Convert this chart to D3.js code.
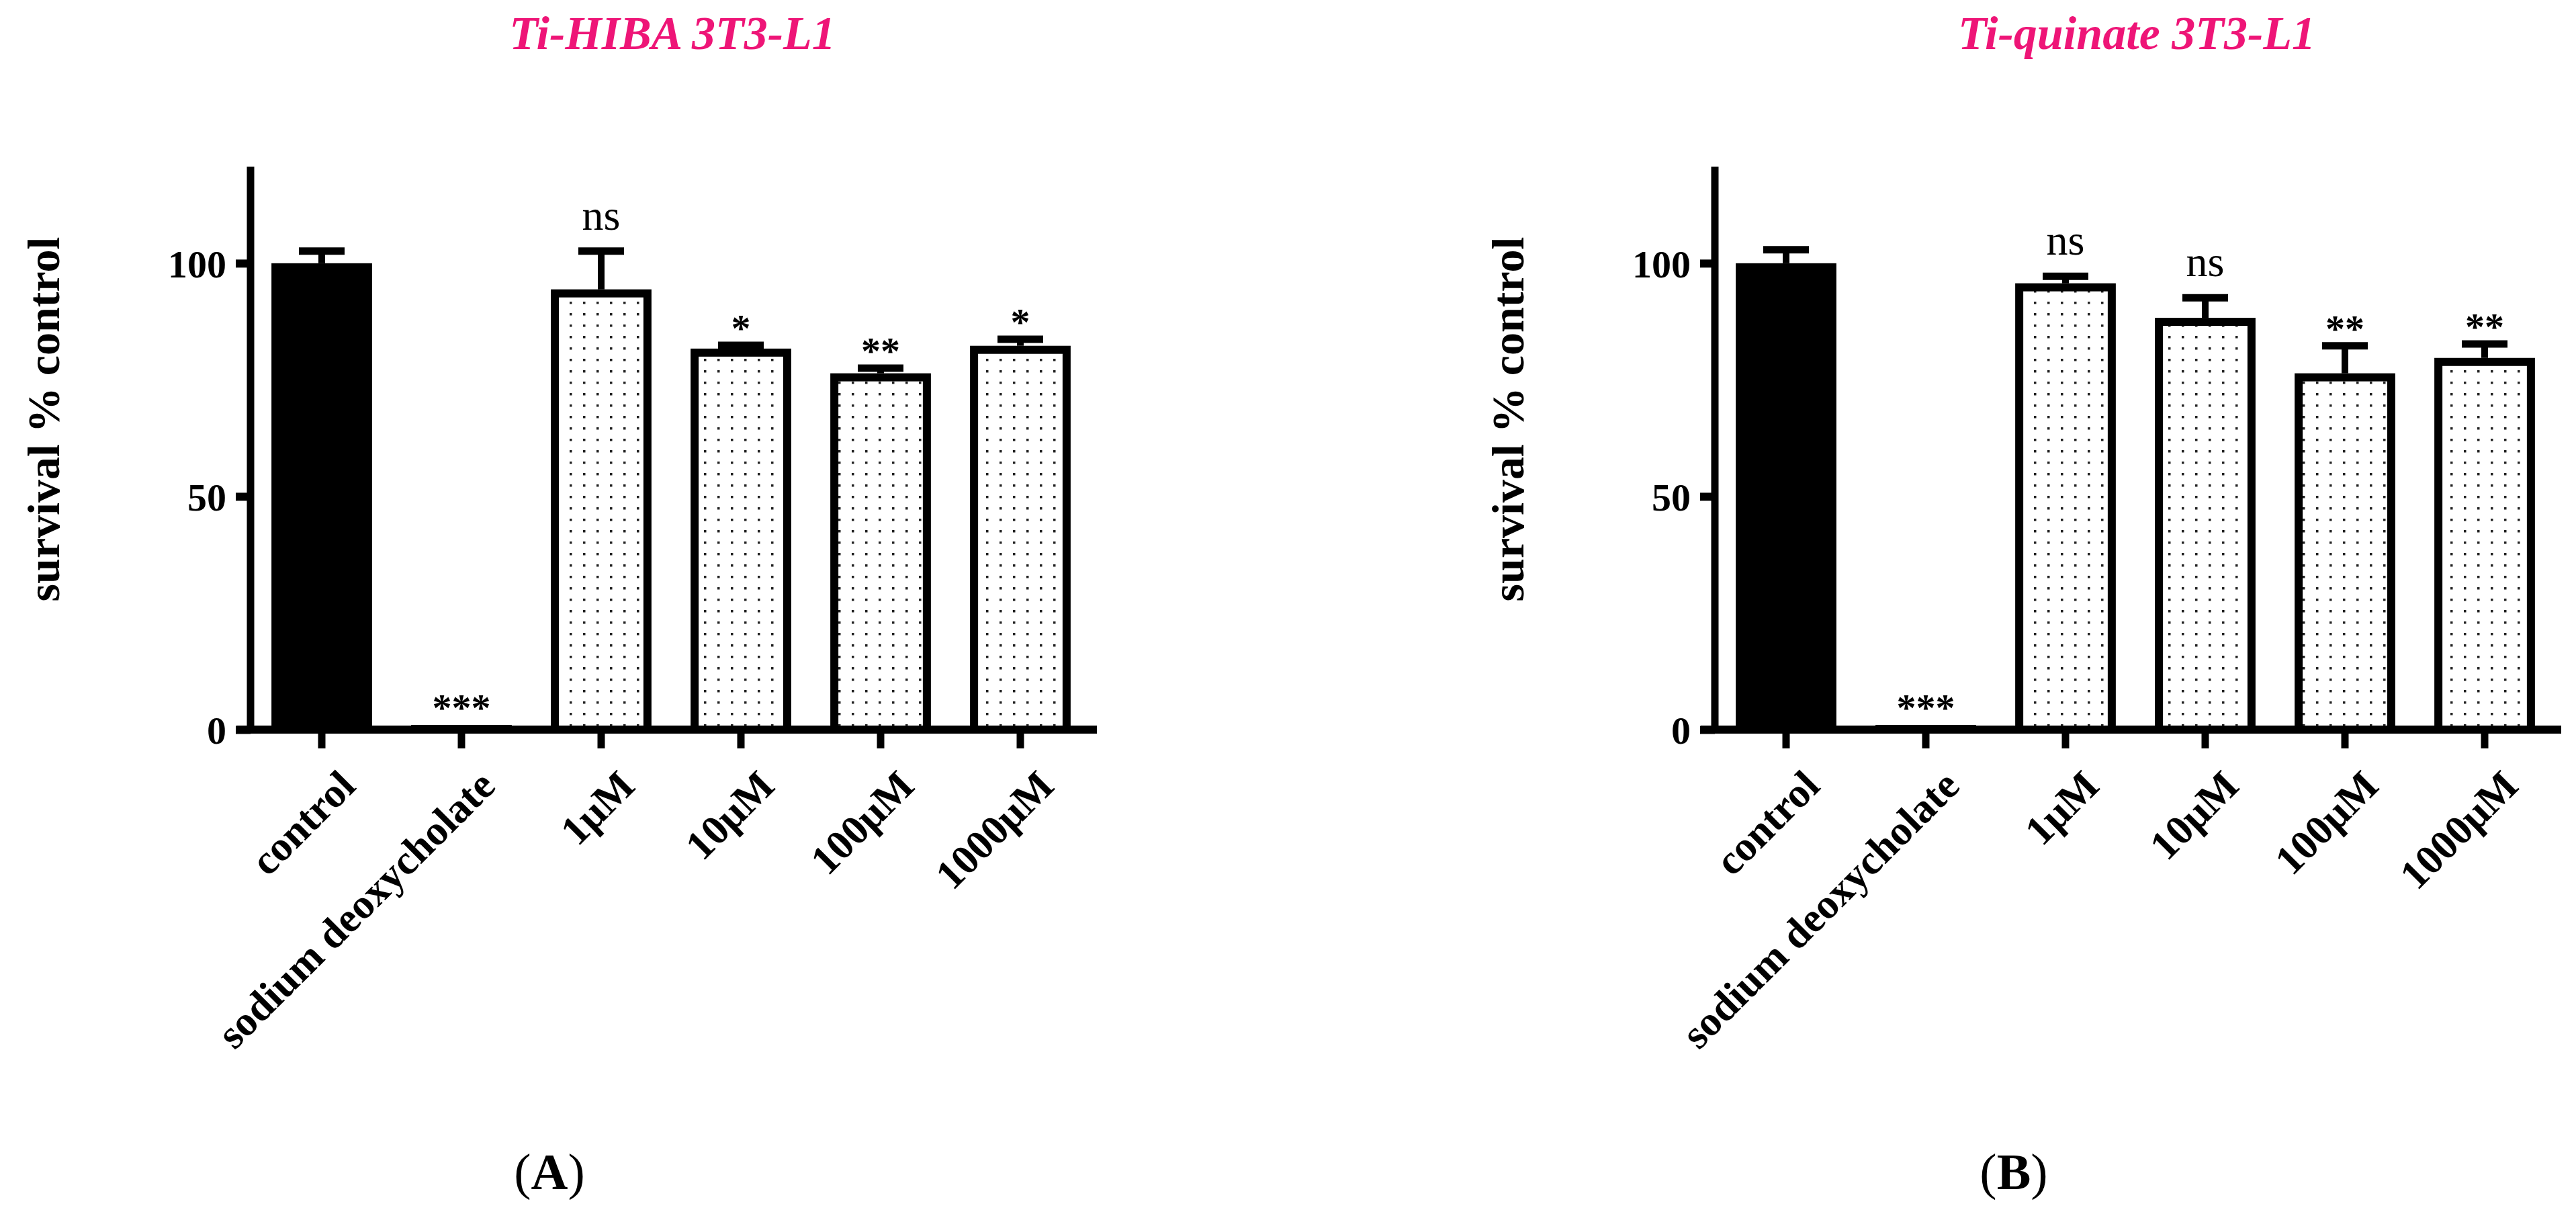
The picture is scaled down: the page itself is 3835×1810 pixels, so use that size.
<!DOCTYPE html>
<html>
<head>
<meta charset="utf-8">
<script src="https://cdn.jsdelivr.net/npm/d3@7"></script>
<style>
  body { margin:0; background:#fff; }
  text { font-family: "Liberation Serif", "Times New Roman", serif; }
</style>
</head>
<body>
<div id="chart-area"></div>
<script>
/* data */
var categories = ["control", "sodium deoxycholate", "1\u03BCM", "10\u03BCM", "100\u03BCM", "1000\u03BCM"];
var hibaMean = [100, 1, 94.4, 81.7, 76.4, 82.3];
var hibaErr  = [2.6, 0, 8.2, 0.7, 1.1, 1.4];
var hibaSig  = ["", "***", "ns", "*", "**", "*"];
var quinMean = [100, 1, 95.7, 88.3, 76.4, 79.7];
var quinErr  = [2.9, 0, 1.5, 4.3, 5.9, 3.0];
var quinSig  = ["", "***", "ns", "ns", "**", "**"];
var yTicks = [0, 50, 100];
var panels = [
  {title:"Ti-HIBA  3T3-L1", letter:"A", mean:hibaMean, err:hibaErr, sig:hibaSig, dx:0},
  {title:"Ti-quinate 3T3-L1", letter:"B", mean:quinMean, err:quinErr, sig:quinSig, dx:2180}
];

var W = 3835, H = 1810;
var svg = d3.select("#chart-area").append("svg")
  .attr("width", W).attr("height", H);

// dotted fill
var pat = svg.append("defs").append("pattern")
  .attr("id", "dots").attr("patternUnits", "userSpaceOnUse")
  .attr("width", 20).attr("height", 17);
pat.append("rect").attr("width", 20).attr("height", 17).attr("fill", "#fff");
pat.append("rect").attr("x", 8).attr("y", 7).attr("width", 3.5).attr("height", 3.5).attr("fill", "#222");

var y = d3.scaleLinear().domain([0, 120]).range([1086, 253]);

panels.forEach(function(p){
  var g = svg.append("g").attr("transform", "translate(" + p.dx + ",0)");

  var x = d3.scaleBand().domain(categories)
    .range([375, 1623]).paddingInner(0.28).paddingOuter(0.14);

  // title
  g.append("text")
    .attr("x", 1001).attr("y", 73)
    .attr("text-anchor", "middle")
    .attr("font-size", 70).attr("font-weight", "bold").attr("font-style", "italic")
    .attr("fill", "#ee1577")
    .text(p.title);

  // bars
  var sw = 12;
  g.selectAll("rect.bar").data(p.mean).enter().append("rect")
    .attr("class", "bar")
    .attr("x", (d,i) => x(categories[i]) + sw/2)
    .attr("width", x.bandwidth() - sw)
    .attr("y", d => y(d) + sw/2)
    .attr("height", d => Math.max(0, y(0) - y(d) - sw/2))
    .attr("fill", (d,i) => i < 2 ? "#000" : "url(#dots)")
    .attr("stroke", "#000").attr("stroke-width", sw);

  // error bars (upper only)
  p.err.forEach(function(e, i){
    if (!e) return;
    var cx = x(categories[i]) + x.bandwidth()/2;
    g.append("line").attr("x1", cx).attr("x2", cx)
      .attr("y1", y(p.mean[i])).attr("y2", y(p.mean[i] + e))
      .attr("stroke", "#000").attr("stroke-width", 10);
    g.append("line").attr("x1", cx - 34).attr("x2", cx + 34)
      .attr("y1", y(p.mean[i] + e)).attr("y2", y(p.mean[i] + e))
      .attr("stroke", "#000").attr("stroke-width", 11);
  });

  // significance marks
  p.sig.forEach(function(s, i){
    if (!s) return;
    var cx = x(categories[i]) + x.bandwidth()/2;
    var isNs = s === "ns";
    g.append("text")
      .attr("x", cx).attr("y", y(p.mean[i] + p.err[i]) - (isNs ? 32 : 6))
      .attr("text-anchor", "middle")
      .attr("font-size", isNs ? 64 : 58)
      .attr("font-family", isNs ? "Liberation Serif" : "Liberation Sans")
      .attr("font-weight", isNs ? "normal" : "bold")
      .text(s);
  });

  // axes
  var yAxis = g.append("g").attr("transform", "translate(373,0)")
    .call(d3.axisLeft(y).tickValues(yTicks).tickSize(22).tickPadding(14));
  yAxis.select(".domain").remove();
  yAxis.selectAll("line").attr("stroke-width", 12);
  yAxis.selectAll("text").attr("font-size", 58).attr("font-weight", "bold")
    .attr("font-family", "Liberation Serif").attr("dy", "0.35em");

  g.append("line").attr("x1", 373).attr("x2", 373).attr("y1", 248).attr("y2", 1092)
    .attr("stroke", "#000").attr("stroke-width", 11);

  var xAxis = g.append("g").attr("transform", "translate(0," + y(0) + ")")
    .call(d3.axisBottom(x).tickSize(28).tickPadding(0));
  xAxis.select(".domain").remove();
  xAxis.selectAll("line").attr("stroke-width", 11);
  xAxis.selectAll("text")
    .attr("font-size", 62).attr("font-weight", "bold")
    .attr("text-anchor", "end")
    .attr("transform", "translate(18,52) rotate(-45)")
    .attr("dy", "0.35em");

  g.append("line").attr("x1", 352).attr("x2", 1633).attr("y1", y(0)).attr("y2", y(0))
    .attr("stroke", "#000").attr("stroke-width", 12);

  // y label
  g.append("text")
    .attr("transform", "translate(88,624) rotate(-90)")
    .attr("text-anchor", "middle")
    .attr("font-size", 68).attr("font-weight", "bold")
    .text("survival % control");

  // panel letter
  var lt = g.append("text").attr("x", 818).attr("y", 1770)
    .attr("text-anchor", "middle").attr("font-size", 76);
  lt.append("tspan").text("(");
  lt.append("tspan").attr("font-weight", "bold").text(p.letter);
  lt.append("tspan").text(")");
});
</script>
</body>
</html>
